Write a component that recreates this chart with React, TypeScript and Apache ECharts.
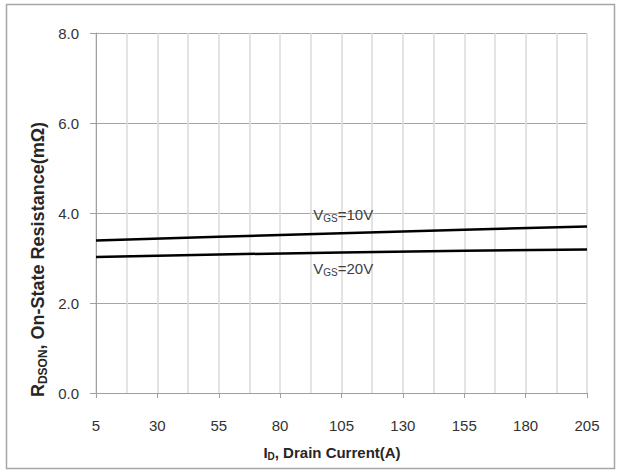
import React, { useEffect, useRef } from "react";
import * as echarts from "echarts";

// Drain current (A) sample points
const drainCurrent = [5, 55, 105, 155, 205];
// On-state resistance (mΩ) at VGS = 10 V
const rdsVgs10 = [3.39, 3.47, 3.55, 3.63, 3.7];
// On-state resistance (mΩ) at VGS = 20 V
const rdsVgs20 = [3.02, 3.08, 3.12, 3.16, 3.19];
// Axis ranges
const xRange = [5, 205];
const xStep = 25;
const yRange = [0, 8];
const yStep = 2;
// Curve annotations: [label value, anchor current, anchor resistance]
const annotations: [string, number, number][] = [
  ["10V", 93.5, 3.96],
  ["20V", 93.5, 2.76],
];

const FONT = "'Liberation Sans', Arial, sans-serif";

export default function App() {
  const ref = useRef<HTMLDivElement>(null);
  useEffect(() => {
    document.body.style.margin = "0";
    const chart = echarts.init(ref.current!, undefined, { renderer: "svg" });
    const mk = (a: number[]) => drainCurrent.map((x, i) => [x, a[i]]);
    const option: any = {
      animation: false,
      backgroundColor: "#ffffff",
      grid: { left: 96, top: 33, right: 33, bottom: 78, outerBoundsMode: "none" },
      xAxis: {
        type: "value",
        min: xRange[0],
        max: xRange[1],
        interval: xStep,
        axisLine: { show: true, lineStyle: { color: "#a0a0a0", width: 1 } },
        axisTick: { show: true, length: 5, lineStyle: { color: "#a0a0a0" } },
        axisLabel: { margin: 25, fontSize: 15, color: "#333333", fontFamily: FONT },
        splitLine: { show: true, lineStyle: { color: "#dadada", width: 1.5 } },
        minorTick: { show: false, splitNumber: 2 },
        minorSplitLine: { show: true, lineStyle: { color: "#dadada", width: 1.5 } },
      },
      yAxis: {
        type: "value",
        min: yRange[0],
        max: yRange[1],
        interval: yStep,
        axisLine: { show: true, lineStyle: { color: "#a0a0a0", width: 1 } },
        axisTick: { show: true, length: 6, lineStyle: { color: "#a0a0a0" } },
        axisLabel: {
          margin: 17,
          fontSize: 15,
          color: "#333333",
          fontFamily: FONT,
          formatter: (v: number) => v.toFixed(1),
        },
        splitLine: { show: true, lineStyle: { color: "#a6a6a6", width: 1 } },
      },
      series: [
        {
          type: "line",
          name: "VGS=10V",
          data: mk(rdsVgs10),
          showSymbol: false,
          lineStyle: { color: "#000000", width: 2.5 },
        },
        {
          type: "line",
          name: "VGS=20V",
          data: mk(rdsVgs20),
          showSymbol: false,
          lineStyle: { color: "#000000", width: 2.5 },
        },
      ],
    };
    chart.setOption(option);

    const mainTok = (size: number, bold: boolean, color: string, lh: number) => ({
      fontSize: size,
      fontWeight: bold ? "bold" : "normal",
      fontFamily: FONT,
      fill: color,
      lineHeight: lh,
    });

    const labelGraphics = annotations.map(([val, x, y]) => {
      const p = chart.convertToPixel({ gridIndex: 0 }, [x, y]) as number[];
      return {
        type: "text",
        x: p[0],
        y: p[1],
        silent: true,
        style: {
          text: `{m|V}{s|GS}{m|=${val}}`,
          align: "left",
          verticalAlign: "middle",
          rich: {
            m: mainTok(15, false, "#404040", 18),
            s: { ...mainTok(10, false, "#404040", 8), verticalAlign: "bottom" },
          },
        },
      };
    });

    chart.setOption({
      graphic: [
        {
          type: "rect",
          silent: true,
          z: -1,
          shape: { x: 6.5, y: 4.5, width: 608, height: 464 },
          style: { fill: "none", stroke: "#a6a6a6", lineWidth: 1.5 },
        },
        {
          type: "text",
          x: 37.5,
          y: 259.5,
          rotation: Math.PI / 2,
          silent: true,
          style: {
            text: "{m|R}{s|DSON}{m|, On-State Resistance(mΩ)}",
            align: "center",
            verticalAlign: "middle",
            rich: {
              m: mainTok(18, true, "#262626", 22),
              s: { ...mainTok(12, true, "#262626", 16), verticalAlign: "bottom" },
            },
          },
        },
        {
          type: "text",
          x: 332,
          y: 452,
          silent: true,
          style: {
            text: "{m|I}{s|D}{m|, Drain Current(A)}",
            align: "center",
            verticalAlign: "middle",
            rich: {
              m: mainTok(15, true, "#262626", 18),
              s: { ...mainTok(10, true, "#262626", 9), verticalAlign: "bottom" },
            },
          },
        },
        ...labelGraphics,
      ],
    });
    return () => chart.dispose();
  }, []);
  return <div ref={ref} style={{ width: 620, height: 471 }} />;
}
